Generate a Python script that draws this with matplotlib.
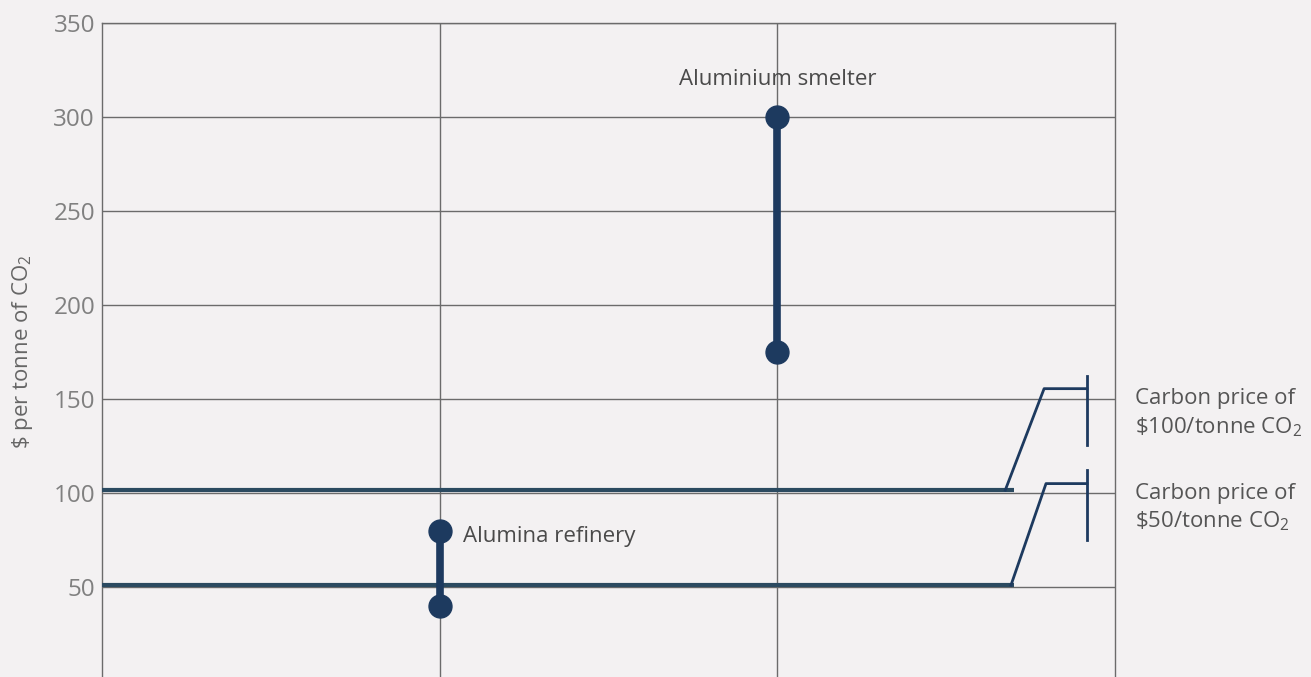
import matplotlib
matplotlib.use('Agg')
import matplotlib.pyplot as plt

plt.rcParams['font.family'] = ['Open Sans', 'DejaVu Sans']
plt.rcParams['mathtext.default'] = 'regular'

# dumbbell data: abatement cost ranges
facilities = ['Alumina refinery', 'Aluminium smelter']
fac_x = [1, 2]
cost_low = [40, 175]
cost_high = [80, 300]

# carbon price reference lines
price_labels = ['Carbon price of\n\\$100/tonne CO$_2$', 'Carbon price of\n\\$50/tonne CO$_2$']
price_values = [101.5, 51]

yticks = [50, 100, 150, 200, 250, 300, 350]

bg = '#f3f1f2'
navy = '#1d3a5f'
teal = '#2b4a60'
grid_c = '#6b6b6b'

fig = plt.figure(figsize=(13.11, 6.77), dpi=100, facecolor=bg)
ax = fig.add_axes([102/1311, -4/677, (1115-102)/1311, (681-23)/677])
ax.set_facecolor(bg)
ax.set_xlim(0, 3)
ax.set_ylim(0, 350)

ax.set_yticks(yticks)
ax.set_xticks([1, 2])
ax.set_xticklabels([])
ax.grid(True, color=grid_c, linewidth=1)
ax.set_axisbelow(True)
ax.tick_params(length=0, labelsize=17.5, labelcolor='#808080', pad=5)
ax.spines['bottom'].set_visible(False)
for s in ['left', 'top', 'right']:
    ax.spines[s].set_color(grid_c)
    ax.spines[s].set_linewidth(1)

ax.set_ylabel('\\$ per tonne of CO$_2$', fontsize=16, color='#666666', labelpad=13)

# price lines with leader to labels
for lab, v, dx in zip(price_labels, price_values, [0, 0.017]):
    ax.plot([0, 2.70], [v, v], color=teal, linewidth=3, solid_capstyle='butt', zorder=3)
    ax.plot([2.675 + dx, 2.79 + dx / 3, 2.917], [v, v + 54, v + 54], color=navy, linewidth=2,
            clip_on=False, zorder=3)
    ax.plot([2.917, 2.917], [v + 24, v + 61], color=navy, linewidth=2, clip_on=False, zorder=3)
    ax.text(3.06, v + 41, lab, fontsize=16, color='#555555', va='center', ha='left',
            linespacing=1.35, clip_on=False)

# dumbbells
for name, x, lo, hi in zip(facilities, fac_x, cost_low, cost_high):
    ax.plot([x, x], [lo, hi], color=navy, linewidth=5.5, zorder=4, solid_capstyle='butt')
    ax.plot([x, x], [lo, hi], 'o', color=navy, markersize=16.5, zorder=5)

ax.text(fac_x[0] + 0.07, 77, facilities[0], fontsize=16, color='#4a4a4a', va='center', ha='left')
ax.text(fac_x[1], 320, facilities[1], fontsize=16, color='#4a4a4a', va='center', ha='center')

fig.savefig('out.png', dpi=100, facecolor=bg)
